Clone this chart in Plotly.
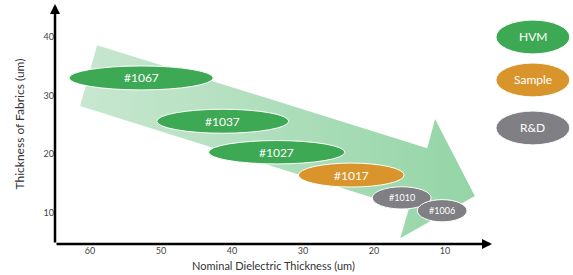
import plotly.graph_objects as go

# ---- data ----
fabrics = ["#1067", "#1037", "#1027", "#1017", "#1010", "#1006"]
dielectric = [52.8, 41.3, 33.7, 23.2, 16.1, 10.4]      # Nominal Dielectric Thickness (um)
fabric_thk = [33.0, 25.6, 20.3, 16.4, 12.5, 10.3]      # Thickness of Fabrics (um)
status = ["HVM", "HVM", "HVM", "Sample", "R&D", "R&D"]
x_ticks = [60, 50, 40, 30, 20, 10]
y_ticks = [10, 20, 30, 40]
legend_items = ["HVM", "Sample", "R&D"]

# ---- styling / geometry ----
colors = {"HVM": "#3ea954", "Sample": "#d9952c", "R&D": "#7f7f84"}
ell_w = [20.3, 18.6, 19.2, 14.9, 8.3, 7.0]
ell_h = [4.1, 4.1, 4.0, 4.1, 3.8, 3.8]
label_size = [12, 12, 12, 12, 9, 9]

arrow_x = [59.0, 12.5, 11.4, 5.8, 16.3, 15.1, 61.4, 59.0]
arrow_y = [38.6, 21.0, 26.0, 12.8, 5.6, 10.6, 28.2, 38.6]

FONT = "Lato, Open Sans, sans-serif"

fig = go.Figure()

fig.add_trace(go.Scatter(
    x=arrow_x, y=arrow_y, mode="lines", fill="toself",
    line=dict(width=0, color="rgba(0,0,0,0)"),
    fillgradient=dict(type="horizontal",
                      colorscale=[[0, "#c8e7d0"], [1, "#94d5a6"]]),
    hoverinfo="skip", showlegend=False))

shapes = []
annotations = []
for name, cx, cy, w, h, st, fs in zip(fabrics, dielectric, fabric_thk, ell_w, ell_h, status, label_size):
    shapes.append(dict(type="circle", xref="x", yref="y",
                       x0=cx - w / 2, x1=cx + w / 2, y0=cy - h / 2, y1=cy + h / 2,
                       fillcolor=colors[st], line=dict(color="white", width=1), layer="above"))
    annotations.append(dict(x=cx, y=cy, xref="x", yref="y", text=name, showarrow=False,
                            xanchor="center", yanchor="middle",
                            font=dict(family=FONT, size=fs, color="white")))

# legend ellipses (paper coords)
leg_y = [(0.933, 0.792), (0.754, 0.613), (0.554, 0.413)]
for name, (ytop, ybot) in zip(legend_items, leg_y):
    shapes.append(dict(type="circle", xref="paper", yref="paper",
                       x0=1.009, x1=1.178, y0=ybot, y1=ytop,
                       fillcolor=colors[name], line=dict(color="white", width=1)))
    annotations.append(dict(x=1.0935, y=(ytop + ybot) / 2, xref="paper", yref="paper",
                            text=name, showarrow=False, xanchor="center", yanchor="middle",
                            font=dict(family=FONT, size=12, color="white")))

# axis arrows
annotations.append(dict(x=0, y=1, xref="paper", yref="paper", ax=0, ay=240,
                        showarrow=True, arrowhead=2, arrowsize=0.8, arrowwidth=2.5,
                        arrowcolor="black", text=""))
annotations.append(dict(x=1, y=0, xref="paper", yref="paper", ax=-437, ay=0,
                        showarrow=True, arrowhead=2, arrowsize=0.8, arrowwidth=2.5,
                        arrowcolor="black", text=""))

fig.update_layout(
    width=573, height=275,
    margin=dict(l=55, r=81, t=4, b=31, autoexpand=False),
    paper_bgcolor="white", plot_bgcolor="white",
    shapes=shapes, annotations=annotations,
    showlegend=False,
    font=dict(family=FONT),
    xaxis=dict(range=[64.93, 3.38], tickvals=x_ticks, showgrid=False, zeroline=False,
               showline=False, ticks="", automargin=False,
               tickfont=dict(size=9, color="#444"),
               title=dict(text="Nominal Dielectric Thickness (um)", standoff=7,
                          font=dict(size=11, color="#333"))),
    yaxis=dict(range=[4.615, 45.64], tickvals=y_ticks, showgrid=False, zeroline=False,
               showline=False, ticks="", automargin=False,
               tickfont=dict(size=9, color="#444"),
               title=dict(text="Thickness of Fabrics (um)", standoff=16,
                          font=dict(size=12, color="#333"))),
)

fig.write_html("out.html", config={"displayModeBar": False},
               post_script="document.body.style.margin='0';document.body.style.overflow='hidden';")
